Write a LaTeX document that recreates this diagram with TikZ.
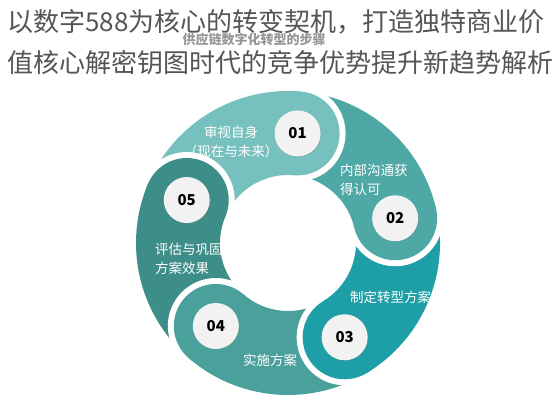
\documentclass[tikz,border=0pt]{standalone}
\usepackage{fontspec}
\newfontfamily\cjk{Noto Sans CJK SC}
\usepackage{tikz}
\usetikzlibrary{shadows}
\definecolor{tealone}{RGB}{118,192,189}
\definecolor{tealtwo}{RGB}{78,168,166}
\definecolor{tealthree}{RGB}{30,158,166}
\definecolor{tealfour}{RGB}{74,161,156}
\definecolor{tealfive}{RGB}{61,142,136}
\definecolor{titlegray}{RGB}{85,85,85}
\definecolor{markgray}{RGB}{150,150,150}
\definecolor{dotfill}{RGB}{242,242,242}

\begin{document}
\begin{tikzpicture}[x=1pt, y=1pt, line cap=round, line join=round,
    numdot/.style={circle, fill=dotfill, minimum size=46pt, inner sep=0pt,
        font=\cjk\bfseries\fontsize{15}{15}\selectfont,
        drop shadow={shadow xshift=0.8pt, shadow yshift=-0.8pt, opacity=0.3}},
    steptext/.style={white, font=\cjk\fontsize{13.5}{19}\selectfont, inner sep=0pt},
    titletext/.style={titlegray, font=\cjk\fontsize{26}{30}\selectfont, inner sep=0pt, anchor=west}]
    \useasboundingbox[fill=white] (0,0) rectangle (560,420);

    % title and watermark
    \node[titletext] (title1) at (7,398) {以数字588为核心的转变契机，打造独特商业价};
    \node[titletext] (title2) at (7,357) {值核心解密钥图时代的竞争优势提升新趋势解析};
    \node[markgray, font=\cjk\bfseries\fontsize{13}{13}\selectfont, inner sep=0pt] (mark) at (254,380) {供应链数字化转型的步骤};

    \begin{scope}[shift={(288,177)}]
        % ring bodies
        \fill[tealone] (85:152) arc[start angle=85, end angle=157, radius=152pt] -- (157:68) arc[start angle=157, end angle=85, radius=68pt] -- cycle;
        \fill[tealtwo] (13:152) arc[start angle=13, end angle=85, radius=152pt] -- (85:68) arc[start angle=85, end angle=13, radius=68pt] -- cycle;
        \fill[tealthree] (-59:152) arc[start angle=-59, end angle=13, radius=152pt] -- (13:68) arc[start angle=13, end angle=-59, radius=68pt] -- cycle;
        \fill[tealfour] (-131:152) arc[start angle=-131, end angle=-59, radius=152pt] -- (-59:68) arc[start angle=-59, end angle=-131, radius=68pt] -- cycle;
        \fill[tealfive] (157:152) arc[start angle=157, end angle=229, radius=152pt] -- (229:68) arc[start angle=229, end angle=157, radius=68pt] -- cycle;

        % heads with their white gaps
        \begin{scope}
            \clip (0,0) -- (53:170) arc[start angle=53, end angle=85, radius=170pt] -- cycle;
            \fill[white] (85:110) circle[radius=48pt];
        \end{scope}
        \fill[tealone] (85:110) circle[radius=42pt];
        \begin{scope}
            \clip (0,0) -- (-19:170) arc[start angle=-19, end angle=13, radius=170pt] -- cycle;
            \fill[white] (13:110) circle[radius=48pt];
        \end{scope}
        \fill[tealtwo] (13:110) circle[radius=42pt];
        \begin{scope}
            \clip (0,0) -- (-91:170) arc[start angle=-91, end angle=-59, radius=170pt] -- cycle;
            \fill[white] (-59:110) circle[radius=48pt];
        \end{scope}
        \fill[tealthree] (-59:110) circle[radius=42pt];
        \begin{scope}
            \clip (0,0) -- (-163:170) arc[start angle=-163, end angle=-131, radius=170pt] -- cycle;
            \fill[white] (-131:110) circle[radius=48pt];
        \end{scope}
        \fill[tealfour] (-131:110) circle[radius=42pt];
        \begin{scope}
            \clip (0,0) -- (125:170) arc[start angle=125, end angle=157, radius=170pt] -- cycle;
            \fill[white] (157:110) circle[radius=48pt];
        \end{scope}
        \fill[tealfive] (157:110) circle[radius=42pt];

        % step numbers
        \node[numdot] (n1) at (85:110) {01};
        \node[numdot] (n2) at (13:110) {02};
        \node[numdot] (n3) at (-59:110) {03};
        \node[numdot] (n4) at (-131:110) {04};
        \node[numdot] (n5) at (157:110) {05};
    \end{scope}

    % step labels
    \node[steptext, align=center] (s1) at (231,278) {审视自身\\（现在与未来）};
    \node[steptext, align=left, anchor=west] (s2) at (340,240) {内部沟通获\\得认可};
    \node[steptext, anchor=west] (s3) at (350,123) {制定转型方案};
    \node[steptext, anchor=west] (s4) at (243,60) {实施方案};
    \node[steptext, align=left, anchor=west] (s5) at (155,161) {评估与巩固\\方案效果};
\end{tikzpicture}
\end{document}
